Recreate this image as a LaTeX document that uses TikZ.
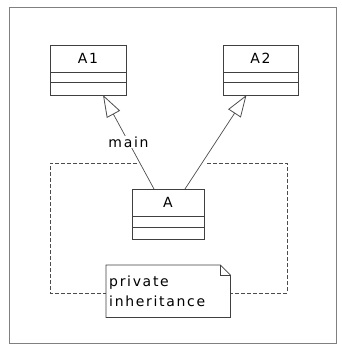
\documentclass[tikz,border=0pt]{standalone}
\usepackage{fontspec}
\newfontfamily\umlfont[LetterSpace=12]{DejaVu Sans}
\usetikzlibrary{arrows.meta,positioning}

\tikzset{
  clsname/.style={draw=black!75,line width=0.8pt,minimum width=#1,minimum height=27pt,inner sep=0pt,outer sep=0pt,anchor=north,font=\umlfont\fontsize{14}{16}\selectfont},
  clspart/.style={draw=black!75,line width=0.8pt,minimum width=#1,inner sep=0pt,outer sep=0pt},
  inh/.style={draw=black!70,line width=0.7pt,-{Triangle[open,length=22pt,width=15pt,line width=0.8pt]}},
  pkg/.style={draw=black!70,line width=0.7pt,dash pattern=on 4pt off 2pt},
}

\begin{document}
\begin{tikzpicture}[x=1pt,y=-1pt]
\useasboundingbox (0,0) rectangle (341,358);
\draw[black!50,line width=1pt] (9,8) rectangle (336,343);
% classes
\node[clsname=76pt] (a1) at (88,45) {A1};
\node[clspart=76pt,minimum height=10pt,below=0pt of a1] (a1attr) {};
\node[clspart=76pt,minimum height=13pt,below=0pt of a1attr] (a1ops) {};
\node[clsname=75pt] (a2) at (260.5,45) {A2};
\node[clspart=75pt,minimum height=10pt,below=0pt of a2] (a2attr) {};
\node[clspart=75pt,minimum height=13pt,below=0pt of a2attr] (a2ops) {};
\node[clsname=72pt] (a) at (168,189) {A};
\node[clspart=72pt,minimum height=11pt,below=0pt of a] (aattr) {};
\node[clspart=72pt,minimum height=12pt,below=0pt of aattr] (aops) {};
% private inheritance frame
\draw[pkg] (137,163) -| (50,293) -| (287,163) -- (206,163);
\node[fill=white,anchor=north west,minimum width=124pt,minimum height=52pt,text width=118pt,inner xsep=3pt,align=left,font=\umlfont\fontsize{14}{20}\selectfont] (note) at (106,265) {private\\inheritance};
\draw[black!75,line width=0.8pt] (note.north west) -- ([xshift=-10pt]note.north east) -- ([yshift=-10pt]note.north east) -- (note.south east) -- (note.south west) -- cycle;
\draw[black!75,line width=0.6pt] ([xshift=-10pt]note.north east) |- ([yshift=-10pt]note.north east);
% generalisations
\draw[inh] ([xshift=-14pt]a.north) -- node[fill=white,inner sep=1pt,font=\umlfont\fontsize{14}{16}\selectfont] (lmain) {main} ([xshift=15pt]a1ops.south);
\draw[inh] ([xshift=17pt]a.north) -- ([xshift=-14pt]a2ops.south);
\end{tikzpicture}
\end{document}
